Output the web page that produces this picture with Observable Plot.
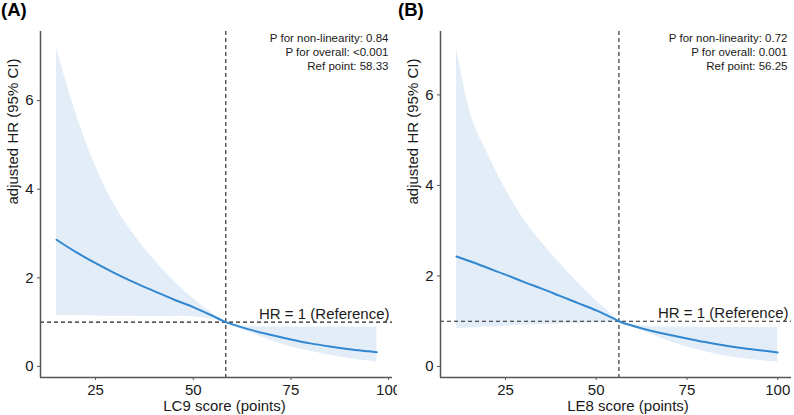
<!DOCTYPE html>
<html>
<head>
<meta charset="utf-8">
<script src="https://cdn.jsdelivr.net/npm/d3@7"></script>
<script src="https://cdn.jsdelivr.net/npm/@observablehq/plot@0.6"></script>
<style>
  body { margin: 0; background: #fff; }
  #wrap { display: flex; width: 794px; height: 415px; }
  #wrap svg { display: block; }
</style>
</head>
<body>
<div id="wrap"></div>
<script>
// Panel A: LC9 score vs adjusted HR (restricted cubic spline)
const lc9Score = [15, 20, 25, 30, 35, 40, 45, 50, 55, 58.33, 60, 65, 70, 75, 80, 85, 90, 95, 97];
const lc9Hr    = [2.86, 2.58, 2.33, 2.10, 1.89, 1.70, 1.51, 1.34, 1.14, 1.0, 0.95, 0.82, 0.71, 0.61, 0.52, 0.45, 0.39, 0.34, 0.32];
const lc9Lower = [1.15, 1.15, 1.14, 1.13, 1.13, 1.12, 1.13, 1.12, 1.06, 1.0, 0.92, 0.75, 0.58, 0.44, 0.34, 0.25, 0.18, 0.12, 0.10];
const lc9Upper = [7.18, 5.70, 4.52, 3.62, 2.95, 2.40, 1.93, 1.53, 1.19, 1.0, 0.96, 0.90, 0.89, 0.89, 0.89, 0.89, 0.89, 0.89, 0.89];
const lc9Ref = 58.33;
const lc9Stats = ["P for non-linearity: 0.84", "P for overall: <0.001", "Ref point: 58.33"];

// Panel B: LE8 score vs adjusted HR
const le8Score = [11.5, 15, 20, 25, 30, 35, 40, 45, 50, 55, 56.25, 60, 65, 70, 75, 80, 85, 90, 95, 100];
const le8Hr    = [2.43, 2.33, 2.18, 2.03, 1.87, 1.72, 1.56, 1.40, 1.24, 1.05, 1.0, 0.90, 0.79, 0.70, 0.62, 0.54, 0.47, 0.41, 0.36, 0.31];
const le8Lower = [0.84, 0.85, 0.87, 0.89, 0.91, 0.92, 0.94, 0.95, 0.97, 0.99, 1.0, 0.87, 0.72, 0.56, 0.43, 0.33, 0.24, 0.18, 0.13, 0.10];
const le8Upper = [7.03, 5.70, 4.72, 3.92, 3.25, 2.74, 2.28, 1.85, 1.45, 1.10, 1.0, 0.93, 0.88, 0.87, 0.87, 0.86, 0.86, 0.86, 0.86, 0.86];
const le8Ref = 56.25;
const le8Stats = ["P for non-linearity: 0.72", "P for overall: 0.001", "Ref point: 56.25"];

const xTicks = [25, 50, 75, 100];
const yTicks = [0, 2, 4, 6];
const yTitle = "adjusted HR (95% CI)";
const refLabel = "HR = 1 (Reference)";

const FONT = "'Liberation Sans', Arial, Helvetica, sans-serif";
const INK = "#1a1a1a";
const AXIS = "#555";

function panel(o) {
  const rows = o.score.map((s, i) => ({score: s, hr: o.hr[i], lower: o.lower[i], upper: o.upper[i]}));
  return Plot.plot({
    width: 397,
    height: 415,
    marginTop: 31,
    marginBottom: 38,
    marginLeft: o.marginLeft,
    marginRight: o.marginRight,
    style: {fontFamily: FONT, background: "#fff", color: INK, overflow: "visible"},
    x: {domain: o.xDomain},
    y: {domain: o.yDomain},
    marks: [
      Plot.areaY(rows, {x: "score", y1: "lower", y2: "upper", fill: "#e3edf8", curve: "monotone-x"}),
      Plot.ruleY([1], {stroke: "#222", strokeWidth: 1.1, strokeDasharray: "4,3"}),
      Plot.ruleX([o.ref], {stroke: "#222", strokeWidth: 1.1, strokeDasharray: "4,3"}),
      Plot.line(rows, {x: "score", y: "hr", stroke: "#3187d0", strokeWidth: 2, curve: "monotone-x"}),
      Plot.axisX({ticks: xTicks, tickSize: 3, tickPadding: 4, fontSize: 15, label: null, stroke: AXIS, fill: INK}),
      Plot.axisY({ticks: yTicks, tickSize: 3, tickPadding: 4, fontSize: 15, label: null, stroke: AXIS, fill: INK}),
      Plot.ruleX([o.xDomain[0]], {stroke: AXIS, strokeWidth: 1.5}),
      Plot.ruleY([o.yDomain[0]], {stroke: AXIS, strokeWidth: 1.5}),
      Plot.text([o.stats.join("\n")], {
        frameAnchor: "top-right", textAnchor: "end", lineAnchor: "top",
        fontSize: 11.5, lineHeight: 1.24, dx: -4, dy: 0, fill: INK
      }),
      Plot.text([refLabel], {
        x: o.xDomain[1], y: 1, textAnchor: "end", lineAnchor: "bottom",
        dx: -3, dy: -3, fontSize: 15, fill: INK
      }),
      Plot.text([o.xLabel], {frameAnchor: "bottom", lineAnchor: "middle", dy: 29, dx: o.titleShift, fontSize: 15, fill: INK}),
      Plot.text([yTitle], {frameAnchor: "left", rotate: -90, lineAnchor: "middle", dx: o.yTitleDx, fontSize: 15, fill: INK}),
      Plot.text([o.tag], {
        frameAnchor: "top-left", textAnchor: "start", lineAnchor: "top",
        dx: -o.marginLeft + 0.5, dy: -29, fontSize: 18.5, fontWeight: "bold", fill: "#000"
      })
    ]
  });
}

const wrap = document.getElementById("wrap");
wrap.append(panel({
  tag: "(A)", xLabel: "LC9 score (points)",
  score: lc9Score, hr: lc9Hr, lower: lc9Lower, upper: lc9Upper,
  ref: lc9Ref, stats: lc9Stats,
  xDomain: [10.9, 101.0], yDomain: [-0.25, 7.56],
  marginLeft: 40, marginRight: 5, titleShift: 8, yTitleDx: -27
}));
wrap.append(panel({
  tag: "(B)", xLabel: "LE8 score (points)",
  score: le8Score, hr: le8Hr, lower: le8Lower, upper: le8Upper,
  ref: le8Ref, stats: le8Stats,
  xDomain: [7.1, 103.8], yDomain: [-0.243, 7.40],
  marginLeft: 43, marginRight: 3, titleShift: 12, yTitleDx: -27
}));
</script>
</body>
</html>
